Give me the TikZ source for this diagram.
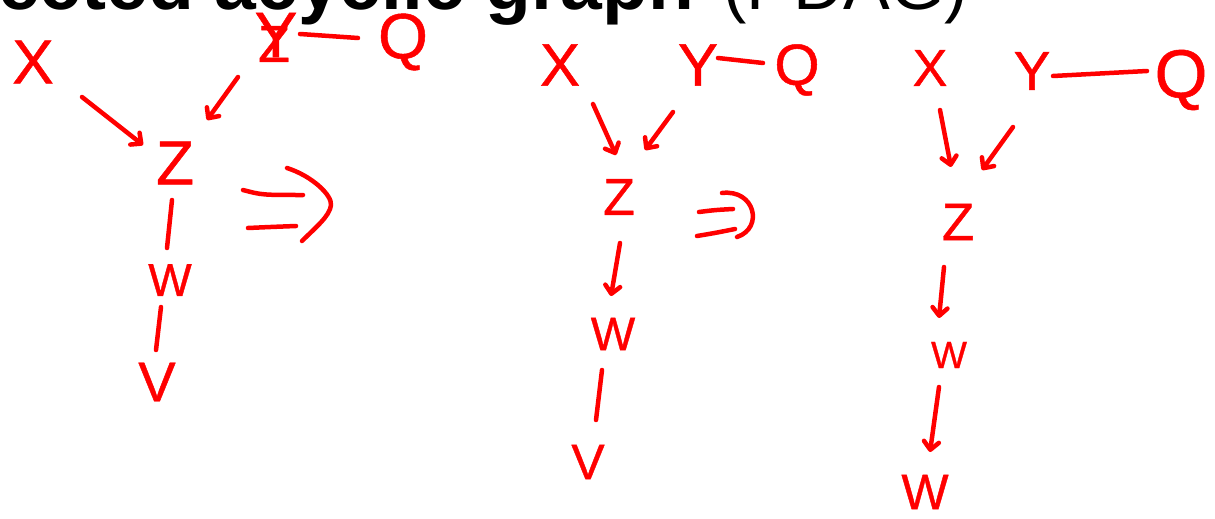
\documentclass[tikz,border=0pt]{standalone}
\usepackage{fontspec}
\setmainfont{Liberation Sans}
\newfontfamily\handfont[FakeBold=0.8]{Liberation Sans}
\usetikzlibrary{arrows.meta}
\begin{document}
\begin{tikzpicture}[x=1pt,y=-1pt,
  lett/.style={text=red, inner sep=0pt, outer sep=0pt, font=\handfont\fontsize{#1}{#1}\selectfont},
  conn/.style={draw=red, line width=4.5pt, line cap=round, line join=round},
  arr/.style={conn, -{Straight Barb[length=8pt,width=15pt,round]}},
  ]
\useasboundingbox (0,0) rectangle (1215,519);
% title (cut at top edge)
\node[anchor=base west, inner sep=0pt, font=\fontsize{75}{75}\selectfont\bfseries] (title) at (-2,9.5) {ected acyclic graph};
\node[anchor=base west, inner sep=0pt, font=\fontsize{70}{70}\selectfont] (titleb) at (723,9.5) {(PDAG)};

% ---------- graph 1 ----------
\node[lett=62] (X1) at (33,62) {X};
\node[lett=64] (Y1) at (276,35) {Y};
\node[lett=52] (Y1z) at (274,44) {Z};
\node[lett=64] (Q1) at (403,42) {Q};
\node[lett=62] (Z1) at (175,163) {Z};
\node[lett=46] (W1) at (170,280) {W};
\node[lett=56] (V1) at (157,382) {V};

\draw[conn] ([shift={(24,-1)}]Y1.center) -- ([shift={(-45,-4)}]Q1.center);
\draw[arr] ([shift={(49,35)}]X1.center) -- ([shift={(-32,-18)}]Z1.center);
\draw[arr] ([shift={(-38,42)}]Y1.center) -- ([shift={(32,-43)}]Z1.center);
\draw[conn] ([shift={(-3,37)}]Z1.center) -- ([shift={(-3,-32)}]W1.center);
\draw[conn] ([shift={(-9,27)}]W1.center) -- ([shift={(-1,-32)}]V1.center);

% implication sign 1
\draw[conn] (243,190) .. controls (262,195) .. (303,195);
\draw[conn] (248,228) .. controls (270,227) .. (296,226);
\draw[conn] (287,168) .. controls (312,176) and (332,195) .. (331,205)
            .. controls (330,216) and (315,228) .. (302,241);

% ---------- graph 2 ----------
\node[lett=60] (X2) at (560,65) {X};
\node[lett=60] (Y2) at (698,65) {Y};
\node[lett=58] (Q2) at (797,70) {Q};
\node[lett=52] (Z2) at (619,197) {Z};
\node[lett=47] (W2) at (613,334) {W};
\node[lett=50] (V2) at (588,462) {V};

\draw[conn] ([shift={(20,-7)}]Y2.center) -- ([shift={(-34,-7)}]Q2.center);
\draw[arr] ([shift={(33,39)}]X2.center) -- ([shift={(-3,-42)}]Z2.center);
\draw[arr] ([shift={(-25,47)}]Y2.center) -- ([shift={(26,-47)}]Z2.center);
\draw[arr] ([shift={(1,46)}]Z2.center) -- ([shift={(-2,-38)}]W2.center);
\draw[conn] ([shift={(-11,36)}]W2.center) -- ([shift={(8,-42)}]V2.center);

% implication sign 2
\draw[conn] (699,212) .. controls (715,210) .. (733,209);
\draw[conn] (697,236) .. controls (715,233) .. (735,229);
\draw[conn] (722,193) .. controls (755,189) and (764,228) .. (737,237);

% ---------- graph 3 ----------
\node[lett=52] (X3) at (930,68) {X};
\node[lett=55] (Y3) at (1032,71) {Y};
\node[lett=68] (Q3) at (1181,80) {Q};
\node[lett=53] (Z3) at (958,222) {Z};
\node[lett=38] (W3) at (949,355) {W};
\node[lett=50] (W4) at (925,492) {W};

\draw[conn] ([shift={(21,5)}]Y3.center) -- ([shift={(-34,-9)}]Q3.center);
\draw[arr] ([shift={(10,42)}]X3.center) -- ([shift={(-7,-55)}]Z3.center);
\draw[arr] ([shift={(-19,56)}]Y3.center) -- ([shift={(24,-52)}]Z3.center);
\draw[arr] ([shift={(-14,45)}]Z3.center) -- ([shift={(-10,-37)}]W3.center);
\draw[arr] ([shift={(-10,32)}]W3.center) -- ([shift={(5,-40)}]W4.center);
\end{tikzpicture}
\end{document}
